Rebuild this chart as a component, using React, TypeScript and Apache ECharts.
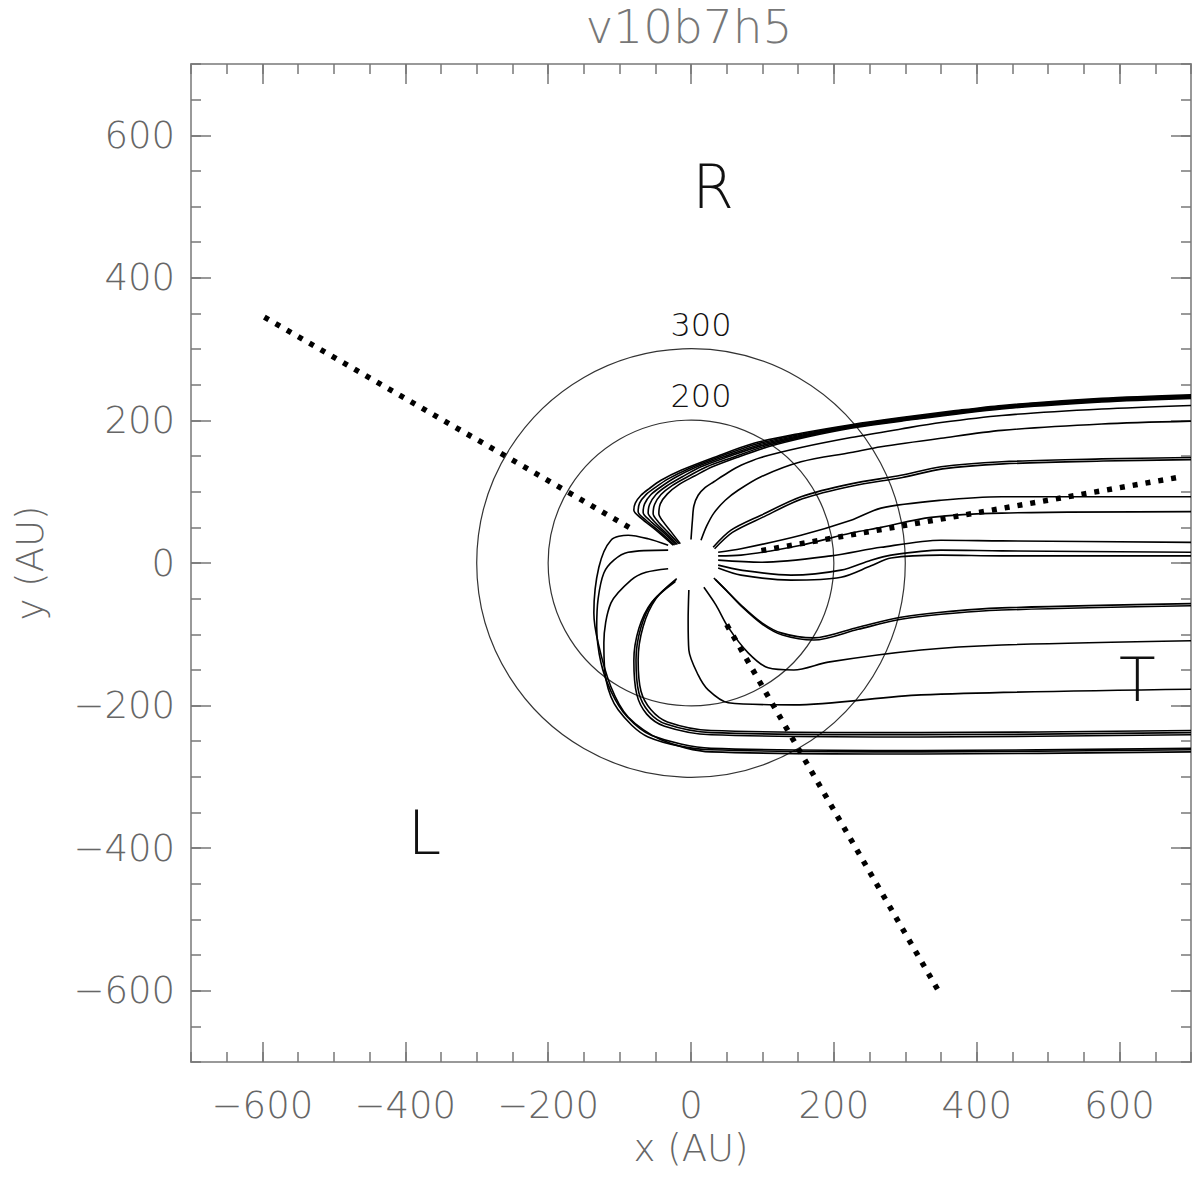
import React, { useEffect, useRef } from "react";
import * as echarts from "echarts";

// ---------- axes ----------
const AXIS_MIN = -700;
const AXIS_MAX = 700;
const MINOR_STEP = 50;
const majorTicks = [-600, -400, -200, 0, 200, 400, 600];
const titleText = "v10b7h5";
const xName = "x (AU)";
const yName = "y (AU)";

// ---------- field lines (AU) ----------
// upper bundle converging to the top edge
const lineT0 = [[-25,25],[-49,46],[-70,63],[-80,74],[-78,84],[-70,95],[-59,104],[-42,116],[-14,130],[32,148],[88,168],[154,182],[224,194],[294,204],[365,213],[435,221],[575,231],[700,236]];
const lineT1 = [[-23,25],[-45,45],[-64,61],[-74,72],[-72,84],[-63,96],[-50,106],[-32,118],[-4,132],[40,149],[92,167],[156,181],[224,193],[294,203],[435,220],[575,230],[700,235]];
const lineT2 = [[-21,26],[-41,45],[-58,60],[-67,71],[-65,83],[-56,96],[-42,107],[-22,120],[6,134],[46,149],[96,166],[158,180],[224,192],[294,202],[435,219],[575,229],[700,234]];
const lineT3 = [[-19,26],[-37,44],[-52,59],[-60,70],[-58,82],[-49,96],[-34,108],[-12,121],[14,135],[52,149],[100,165],[160,179],[224,191],[294,201],[435,218],[575,228],[700,233]];
const lineT4 = [[-17,27],[-33,44],[-46,58],[-53,69],[-51,82],[-42,96],[-26,109],[-3,122],[22,135],[58,148],[104,164],[162,178],[224,190],[294,200],[435,217],[575,227],[700,232]];
const lineT5 = [[-15,27],[-28,44],[-39,58],[-45,69],[-43,83],[-33,97],[-17,110],[5,122],[30,135],[64,148],[108,163],[164,177],[224,189],[294,199],[435,216],[575,226],[700,231]];
const line2 = [[0,33],[2,60],[4,80],[10,95],[20,106],[32,114],[52,127],[70,137],[98,148],[154,162],[224,176],[294,188],[350,197],[435,207],[575,216],[700,221]];
const line3 = [[14,32],[22,52],[32,70],[48,88],[66,102],[98,121],[154,142],[224,155],[266,163],[350,175],[435,186],[575,195],[700,199]];
const line4a = [[31,22],[56,46],[98,67],[154,93],[224,111],[294,123],[350,135],[435,142],[575,146],[700,148]];
const line4b = [[33,20],[58,43],[100,64],[156,90],[226,108],[296,120],[352,132],[437,139],[577,143],[700,145]];
const line5 = [[38,15],[70,20],[154,39],[224,60],[266,77],[350,88],[435,93],[575,93],[700,93]];
const line6 = [[38,10],[70,11],[154,25],[224,42],[266,50],[336,64],[435,70],[700,72]];
const line7 = [[38,4],[98,1],[196,10],[266,22],[350,32],[435,31],[700,29]];
const line8a = [[38,-3],[70,-10],[140,-17],[210,-10],[252,4],[280,11],[350,18],[435,17],[700,15]];
const line8b = [[38,-7],[70,-17],[140,-24],[210,-20],[252,-4],[280,7],[350,11],[435,10],[700,10]];
// lower lines
const line9a = [[32,-21],[49,-38],[70,-59],[98,-83],[126,-98],[172,-105],[234,-90],[294,-76],[350,-69],[435,-63],[700,-57]];
const line9b = [[34,-23],[51,-40],[72,-62],[100,-86],[128,-101],[172,-108],[234,-93],[294,-79],[350,-72],[435,-66],[700,-60]];
const line10 = [[18,-34],[35,-59],[52,-90],[80,-126],[108,-147],[144,-150],[192,-139],[322,-122],[435,-115],[700,-109]];
const line11 = [[-3,-38],[-4,-80],[-3,-122],[10,-157],[24,-178],[52,-196],[144,-199],[322,-185],[700,-177]];
const line12a = [[-21,-24],[-52,-52],[-70,-90],[-77,-136],[-73,-182],[-59,-209],[-35,-226],[28,-238],[322,-241],[700,-238]];
const line12b = [[-20,-22],[-49,-50],[-67,-89],[-74,-136],[-70,-180],[-56,-206],[-33,-223],[28,-235],[322,-238],[700,-235]];
const line12c = [[-22,-26],[-55,-55],[-73,-92],[-80,-137],[-76,-184],[-62,-212],[-37,-229],[28,-241],[322,-244],[700,-241]];
// outer loop lines
const line13 = [[-32,-8],[-63,-13],[-84,-24],[-112,-56],[-122,-112],[-119,-164],[-102,-206],[-60,-244],[28,-262],[322,-265],[700,-262]];
const line14 = [[-32,25],[-60,34],[-88,39],[-112,32],[-129,-6],[-136,-70],[-130,-112],[-112,-174],[-88,-216],[-42,-248],[28,-265],[322,-268],[700,-265]];
const line15 = [[-32,18],[-88,15],[-108,4],[-122,-14],[-130,-50],[-132,-90],[-126,-140],[-112,-180],[-90,-215],[-55,-242],[28,-260],[322,-263],[700,-260]];

const fieldLines = [
  lineT0, lineT1, lineT2, lineT3, lineT4, lineT5,
  line2, line3, line4a, line4b, line5, line6, line7, line8a, line8b,
  line9a, line9b, line10, line11, line12a, line12b, line12c,
  line13, line14, line15,
];

// ---------- dotted rays (AU) ----------
const rayNW = [[-86.6, 50], [-600, 346.4]];
const raySE = [[50, -86.6], [348, -603]];
const rayE = [[98.5, 17.4], [687, 121]];
const rays = [rayNW, raySE, rayE];

// ---------- circles and labels ----------
const circleRadii = [200, 300];
const circleLabelText = ["300", "200"];
const circleLabelX = [14, 14];
const circleLabelY = [334, 234];
const regionText = ["R", "L", "T"];
const regionX = [31, -373, 625];
const regionY = [527, -379, -164];

const FONT = "DejaVu Sans";
const fmt = (v: number) => String(v).replace("-", "\u2212");

function App() {
  const ref = useRef<HTMLDivElement>(null);
  useEffect(() => {
    if (!ref.current) return;
    const chart = echarts.init(ref.current, undefined, { renderer: "svg" });
    const gridBox = { left: 191, right: 9, top: 64, bottom: 124 };
    const axisLine = { show: true, onZero: false, lineStyle: { color: "#999", width: 2 } };
    const noLine = { show: false, onZero: false };
    const minorTick = { show: true, inside: true, length: 10, interval: 0, lineStyle: { color: "#777", width: 1.5 } };
    const majorTick = { show: true, inside: true, length: 20, customValues: majorTicks, lineStyle: { color: "#777", width: 1.5 } };
    const labelStyle = { color: "#666", fontSize: 37, fontFamily: FONT, fontWeight: 200 };
    const baseAxis = { type: "value", min: AXIS_MIN, max: AXIS_MAX, interval: MINOR_STEP, splitLine: { show: false } };

    const series: any[] = [];
    fieldLines.forEach((pts) => {
      series.push({
        type: "line", xAxisIndex: 0, yAxisIndex: 0, data: pts, showSymbol: false, symbol: "none",
        smooth: 0.3, silent: true, lineStyle: { color: "#000", width: 1.6 },
      });
    });
    rays.forEach((pts) => {
      series.push({
        type: "line", xAxisIndex: 0, yAxisIndex: 0, data: pts, showSymbol: false, symbol: "none", silent: true,
        lineStyle: { color: "#000", width: 5.5, type: [5, 8], cap: "butt" },
      });
    });
    series.push({
      type: "custom", xAxisIndex: 0, yAxisIndex: 0, silent: true,
      data: circleRadii.map((r) => [0, 0, r]),
      renderItem: (params: any, api: any) => {
        const c = api.coord([api.value(0), api.value(1)]);
        const r = api.size([api.value(2), 0])[0];
        return { type: "circle", shape: { cx: c[0], cy: c[1], r }, style: { fill: "none", stroke: "#333", lineWidth: 1.2 } };
      },
    });
    series.push({
      type: "custom", xAxisIndex: 0, yAxisIndex: 0, silent: true,
      data: circleLabelText.map((t, i) => [circleLabelX[i], circleLabelY[i], i]),
      renderItem: (params: any, api: any) => {
        const c = api.coord([api.value(0), api.value(1)]);
        return { type: "text", x: c[0], y: c[1], style: { text: circleLabelText[api.value(2)], fontSize: 32, fontFamily: FONT, fontWeight: 200, fill: "#111", align: "center", verticalAlign: "middle" } };
      },
    });
    series.push({
      type: "custom", xAxisIndex: 0, yAxisIndex: 0, silent: true,
      data: regionText.map((t, i) => [regionX[i], regionY[i], i]),
      renderItem: (params: any, api: any) => {
        const c = api.coord([api.value(0), api.value(1)]);
        return { type: "text", x: c[0], y: c[1], style: { text: regionText[api.value(2)], fontSize: 60, fontFamily: FONT, fontWeight: 200, fill: "#111", align: "center", verticalAlign: "middle" } };
      },
    });

    chart.setOption({
      animation: false,
      backgroundColor: "#fff",
      grid: [{ ...gridBox }, { ...gridBox }],
      graphic: [
        { type: "text", x: 689, y: 26, style: { text: titleText, fontSize: 47, fontFamily: FONT, fontWeight: 200, fill: "#777", align: "center", verticalAlign: "middle" } },
      ],
      xAxis: [
        { ...baseAxis, gridIndex: 0, position: "bottom", axisLine, axisTick: minorTick,
          axisLabel: { ...labelStyle, margin: 25, interval: 0, formatter: (v: number) => (majorTicks.includes(v) ? fmt(v) : "") },
          name: xName, nameLocation: "middle", nameGap: 68, nameTextStyle: { ...labelStyle } },
        { ...baseAxis, gridIndex: 0, position: "top", axisLine, axisTick: minorTick, axisLabel: { show: false } },
        { ...baseAxis, gridIndex: 1, position: "bottom", axisLine: noLine, axisTick: majorTick, axisLabel: { show: false } },
        { ...baseAxis, gridIndex: 1, position: "top", axisLine: noLine, axisTick: majorTick, axisLabel: { show: false } },
      ],
      yAxis: [
        { ...baseAxis, gridIndex: 0, position: "left", axisLine, axisTick: minorTick,
          axisLabel: { ...labelStyle, margin: 16, interval: 0, formatter: (v: number) => (majorTicks.includes(v) ? fmt(v) : "") },
          name: yName, nameLocation: "middle", nameGap: 142, nameRotate: 90, nameTextStyle: { ...labelStyle } },
        { ...baseAxis, gridIndex: 0, position: "right", axisLine, axisTick: minorTick, axisLabel: { show: false } },
        { ...baseAxis, gridIndex: 1, position: "left", axisLine: noLine, axisTick: majorTick, axisLabel: { show: false } },
        { ...baseAxis, gridIndex: 1, position: "right", axisLine: noLine, axisTick: majorTick, axisLabel: { show: false } },
      ],
      series,
    });
    return () => chart.dispose();
  }, []);
  return <div ref={ref} style={{ position: "fixed", left: 0, top: 0, width: 1200, height: 1186, background: "#fff" }} />;
}

export default App;
